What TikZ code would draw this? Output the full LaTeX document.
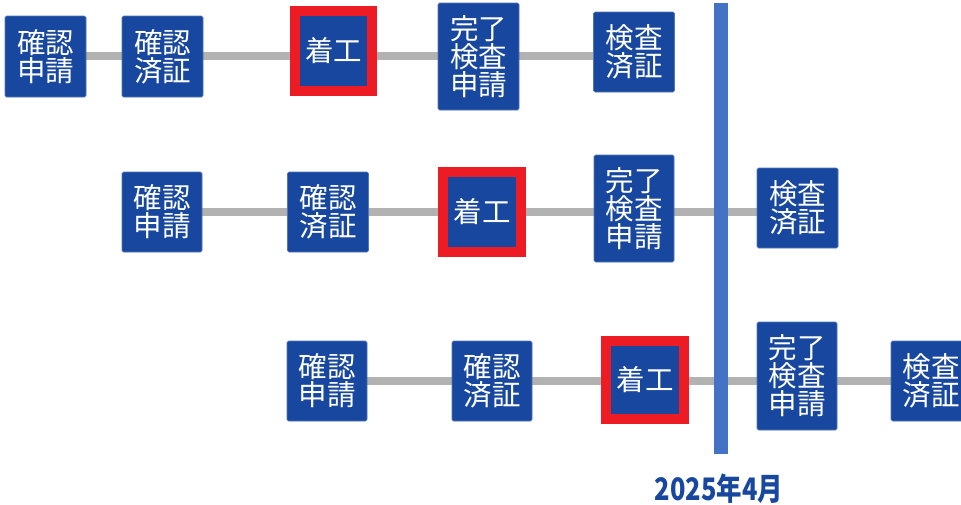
\documentclass[tikz,border=0pt]{standalone}
\usepackage{fontspec}
\newfontfamily\jpfont{Noto Sans CJK JP}
\newfontfamily\jpdate[FakeStretch=0.82]{Noto Sans CJK JP}
\usetikzlibrary{backgrounds}
\definecolor{boxblue}{HTML}{17479E}
\definecolor{barblue}{HTML}{4472C4}
\definecolor{conngray}{HTML}{B2B2B2}
\definecolor{markred}{HTML}{ED1C24}
\tikzset{
  stage/.style={fill=boxblue, draw=boxblue!75!white, line width=0.6pt, rounded corners=1.5pt,
    text=white, font=\jpfont\fontsize{28.5}{28}\selectfont, align=center, inner sep=0pt,
    minimum width=81pt, minimum height=81pt},
  tallstage/.style={stage, minimum height=107pt},
  startstage/.style={fill=boxblue, draw=markred, line width=10pt,
    text=white, font=\jpfont\fontsize{28.5}{28}\selectfont, align=center, inner sep=0pt,
    minimum width=77pt, minimum height=80pt},
  conn/.style={draw=conngray, line width=8pt},
}
\begin{document}
\begin{tikzpicture}[x=1pt,y=-1pt]
\useasboundingbox (0,0) rectangle (961,504);
\clip (0,0) rectangle (961,504);
% row y levels
\coordinate (y1) at (0,56);
\coordinate (y2) at (0,212);
\coordinate (y3) at (0,381);
% row 1
\node[stage] (a1) at (45.5,56.5) {確認\\申請};
\node[stage] (b1) at (162.5,56.5) {確認\\済証};
\node[startstage] (c1) at (333.5,51) {着工};
\node[tallstage] (d1) at (478.5,56.5) {完了\\検査\\申請};
\node[stage, minimum height=80pt] (e1) at (634,52) {検査\\済証};
% row 2
\node[stage, minimum width=80pt, minimum height=80pt] (a2) at (162,212) {確認\\申請};
\node[stage, minimum height=80pt] (b2) at (328,212) {確認\\済証};
\node[startstage, minimum width=78pt] (c2) at (482,212) {着工};
\node[tallstage, minimum width=80pt] (d2) at (634,208.5) {完了\\検査\\申請};
\node[stage, minimum height=80pt] (e2) at (797.5,208) {検査\\済証};
% row 3
\node[stage, minimum width=80pt, minimum height=80pt] (a3) at (327,381) {確認\\申請};
\node[stage, minimum width=80pt, minimum height=80pt] (b3) at (492,381) {確認\\済証};
\node[startstage, minimum width=78pt, minimum height=78pt] (c3) at (645,380) {着工};
\node[tallstage, minimum width=80pt, minimum height=108pt] (d3) at (797,376) {完了\\検査\\申請};
\node[stage, minimum width=80pt, minimum height=80pt] (e3) at (931,381) {検査\\済証};
% connectors
\begin{scope}[on background layer]
  \draw[conn] (a1.east |- y1) -- (b1.west |- y1);
  \draw[conn] (b1.east |- y1) -- (c1.west |- y1);
  \draw[conn] (c1.east |- y1) -- (d1.west |- y1);
  \draw[conn] (d1.east |- y1) -- (e1.west |- y1);
  \draw[conn] (a2.east |- y2) -- (b2.west |- y2);
  \draw[conn] (b2.east |- y2) -- (c2.west |- y2);
  \draw[conn] (c2.east |- y2) -- (d2.west |- y2);
  \draw[conn] (d2.east |- y2) -- (e2.west |- y2);
  \draw[conn] (a3.east |- y3) -- (b3.west |- y3);
  \draw[conn] (b3.east |- y3) -- (c3.west |- y3);
  \draw[conn] (c3.east |- y3) -- (d3.west |- y3);
  \draw[conn] (d3.east |- y3) -- (e3.west |- y3);
\end{scope}
% date bar
\node[fill=barblue, inner sep=0pt, minimum width=14pt, minimum height=451pt] (bar) at (721,228.5) {};
\node[text=boxblue, font=\jpdate\bfseries\fontsize{31}{31}\selectfont, inner sep=0pt] (date) at (719,488.5) {2025年4月};
\end{tikzpicture}
\end{document}
